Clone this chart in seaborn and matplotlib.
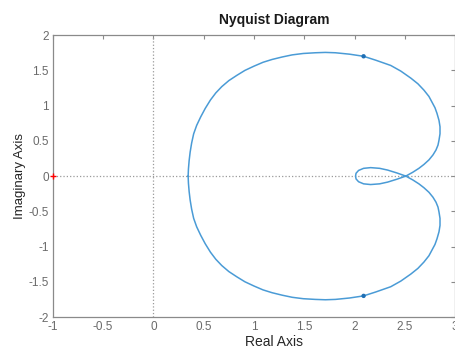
import numpy as np
import pandas as pd
import matplotlib
matplotlib.use("Agg")
import matplotlib.pyplot as plt
import seaborn as sns

# upper branch of the Nyquist curve (lower one is its mirror)
re_half = [0.345, 0.348, 0.355, 0.365, 0.38, 0.40, 0.43, 0.47, 0.515, 0.567, 0.62,
           0.68, 0.75, 0.83, 0.91, 1.00, 1.09, 1.18, 1.28, 1.38, 1.49, 1.61, 1.71,
           1.81, 1.95, 2.09, 2.21, 2.36, 2.46, 2.56, 2.63, 2.69, 2.74, 2.77, 2.80,
           2.82, 2.84, 2.85, 2.85, 2.84, 2.83, 2.81, 2.78, 2.74, 2.69, 2.64, 2.58,
           2.51, 2.46, 2.42, 2.37, 2.33, 2.25, 2.16, 2.09, 2.04, 2.015, 2.01]
im_half = [0.00, 0.10, 0.22, 0.34, 0.47, 0.60, 0.72, 0.84, 0.96, 1.08, 1.18,
           1.27, 1.355, 1.43, 1.50, 1.56, 1.615, 1.655, 1.69, 1.72, 1.74, 1.75, 1.755,
           1.75, 1.73, 1.70, 1.645, 1.57, 1.49, 1.39, 1.31, 1.22, 1.13, 1.05, 0.97,
           0.89, 0.79, 0.70, 0.60, 0.51, 0.44, 0.37, 0.30, 0.23, 0.165, 0.11, 0.055,
           0.00, -0.025, -0.045, -0.067, -0.085, -0.11, -0.12, -0.11, -0.08, -0.04, 0.00]
arrow_re = [2.09, 2.09]
arrow_im = [1.70, -1.70]
xticks = [-1, -0.5, 0, 0.5, 1, 1.5, 2, 2.5, 3]
yticks = [-2, -1.5, -1, -0.5, 0, 0.5, 1, 1.5, 2]

re_all = re_half + re_half[::-1]
im_all = im_half + [-v for v in im_half[::-1]]
curve = pd.DataFrame({"re": re_all, "im": im_all})

sns.set_style("white")
plt.rcParams["font.family"] = ["Liberation Sans", "DejaVu Sans"]

fig = plt.figure(figsize=(4.56, 3.48), dpi=100)
ax = fig.add_axes([0.116, 0.089, 0.882, 0.81])

ax.axhline(0, color="#9a9a9a", ls=":", lw=0.9, zorder=1)
ax.axvline(0, color="#9a9a9a", ls=":", lw=0.9, zorder=1)

sns.lineplot(data=curve, x="re", y="im", sort=False, estimator=None,
             color="#4a9bd6", lw=1.1, ax=ax, zorder=3)
sns.scatterplot(x=arrow_re, y=arrow_im, color="#1f6fb5", s=10, marker="o",
                edgecolor="none", ax=ax, zorder=4)
ax.plot([-1], [0], marker="+", color="red", ms=5, mew=1.0, clip_on=False, zorder=5)

ax.set_xlim(-1, 3)
ax.set_ylim(-2, 2)
ax.set_xticks(xticks)
ax.set_yticks(yticks)
ax.set_xticklabels([f"{t:g}" for t in xticks])
ax.set_yticklabels([f"{t:g}" for t in yticks])
ax.tick_params(direction="in", length=3, width=0.8, colors="#8a8a8a",
               labelcolor="#6a6a6a", labelsize=8.5, top=True, right=True,
               labeltop=False, labelright=False, pad=3)
for s in ax.spines.values():
    s.set_color("#8a8a8a")
    s.set_linewidth(0.9)

ax.set_title("Nyquist Diagram", fontsize=10, fontweight="bold", color="#1a1a1a",
             x=0.55, pad=8)
ax.set_xlabel("Real Axis", fontsize=10, color="#262626")
ax.set_ylabel("Imaginary Axis", fontsize=9.5, color="#262626", labelpad=2)
ax.xaxis.set_label_coords(0.55, -0.065)

fig.savefig("out.png", dpi=100)
